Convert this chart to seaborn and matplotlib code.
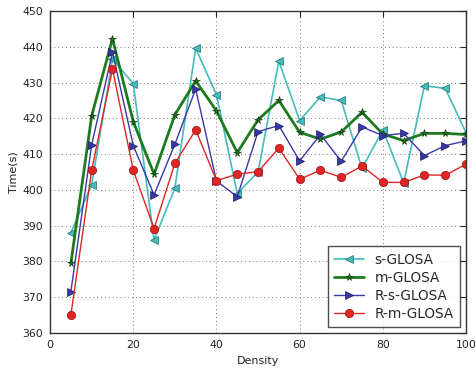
import matplotlib
matplotlib.use("Agg")
import matplotlib.pyplot as plt
import seaborn as sns
import pandas as pd

density = [5, 10, 15, 20, 25, 30, 35, 40, 45, 50, 55, 60, 65, 70, 75, 80, 85, 90, 95, 100]
s_glosa = [388, 401.5, 436.5, 429.7, 386, 400.5, 439.6, 426.6, 399, 405, 436, 419.4, 426, 425, 406, 416.8, 402, 429.1, 428.4, 416]
m_glosa = [379.5, 420.7, 442.3, 419.1, 404.4, 421, 430.5, 422.1, 410.4, 419.6, 425, 416.1, 414.2, 416.2, 421.7, 415.6, 413.8, 415.8, 415.8, 415.5]
r_s_glosa = [371.6, 412.6, 438.5, 412.4, 398.6, 412.8, 428.2, 402.5, 398.1, 416.3, 418, 408.1, 415.5, 408, 417.6, 415.2, 415.8, 409.6, 412.4, 413.7]
r_m_glosa = [365.1, 405.5, 433.8, 405.5, 389.2, 407.4, 416.8, 402.6, 404.4, 405.1, 411.7, 403, 405.5, 403.5, 406.7, 402.1, 402.1, 404.2, 404.1, 407.2]

labels = ["s-GLOSA", "m-GLOSA", "R-s-GLOSA", "R-m-GLOSA"]
series = [s_glosa, m_glosa, r_s_glosa, r_m_glosa]

sns.set_style("white")
plt.rcParams['font.family'] = ['DejaVu Sans']

fig = plt.figure(figsize=(4.77, 3.68), dpi=100)
ax = fig.add_axes([0.105, 0.095, 0.872, 0.875])

colors = ["#45bcbc", "#1e7a1e", "#3838a8", "#e02525"]
markers = ["<", "*", ">", "o"]
edges = ["#1f6f6f", "#154015", "#1a1a60", "#a01010"]
lws = [1.2, 2.0, 1.0, 1.0]
msizes = [5.5, 5.5, 5.5, 6]
for lab, vals, c, m, e, lw, ms in zip(labels, series, colors, markers, edges, lws, msizes):
    df = pd.DataFrame({"Density": density, "Time": vals})
    sns.lineplot(data=df, x="Density", y="Time", ax=ax, color=c, marker=m,
                 linewidth=lw, markersize=ms, label=lab,
                 markeredgecolor=e, markeredgewidth=0.5)

ax.set_xlim(0, 100)
ax.set_ylim(360, 450)
ax.set_xticks([0, 20, 40, 60, 80, 100])
ax.set_yticks(range(360, 451, 10))
ax.grid(True, linestyle=(0, (1, 3)), color="#777777", linewidth=0.7)
ax.tick_params(direction="in", length=4, labelsize=7.8, colors="#222222", top=True, right=True)
ax.tick_params(axis="x", pad=5)
ax.tick_params(axis="y", pad=5)
for sp in ax.spines.values():
    sp.set_color("#333333")
    sp.set_linewidth(1.0)
ax.set_xlabel("Density", fontsize=8, color="#222222", labelpad=4)
ax.set_ylabel("Time(s)", fontsize=8, color="#222222", labelpad=3)

leg = ax.legend(loc="lower right", fontsize=9.8, frameon=True, fancybox=False,
                borderaxespad=0.45, handlelength=2.2, labelspacing=0.3,
                borderpad=0.45)
leg.get_frame().set_edgecolor("#222222")
leg.get_frame().set_linewidth(1.0)

fig.savefig("out.png", dpi=100)
